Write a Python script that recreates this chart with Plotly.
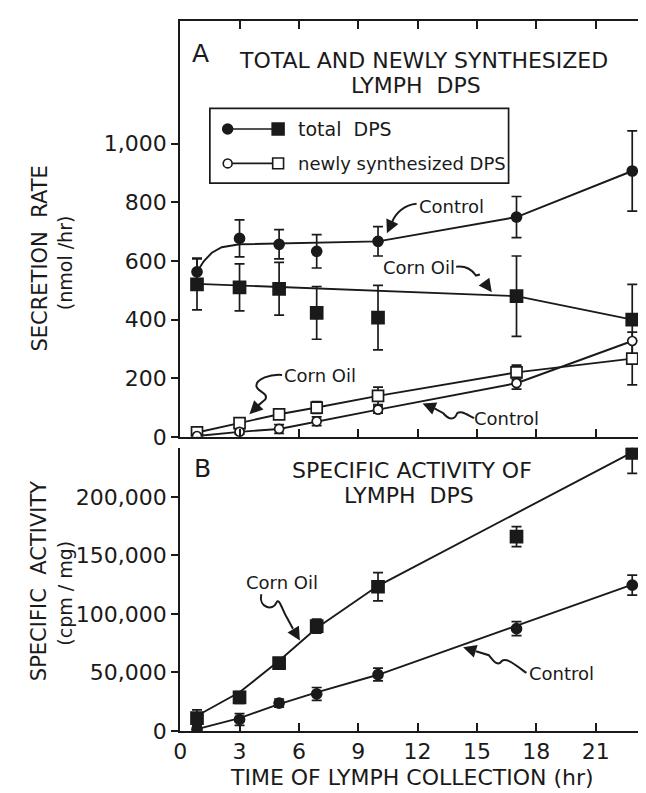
import plotly.graph_objects as go

# ---------------- data ----------------
hours = [0.85, 3, 5, 6.9, 10, 17, 22.85]

# Panel A: secretion rate (nmol/hr)
total_control = [563, 677, 657, 633, 667, 750, 907]
total_control_err = [47, 63, 50, 57, 50, 70, 137]
total_corn = [520, 510, 505, 423, 407, 480, 400]
total_corn_err = [87, 80, 90, 90, 110, 137, 120]
new_corn = [15, 47, 77, 100, 140, 220, 267]
new_corn_err = [10, 12, 15, 20, 30, 25, 90]
new_control = [3, 17, 27, 53, 93, 183, 327]
new_control_err = [5, 8, 15, 15, 12, 20, 0]

# fitted curves drawn through panel A totals
fit_control_t = [0.85, 1.2, 1.6, 2.1, 3.0, 10, 17, 22.85]
fit_control_v = [563, 600, 628, 647, 657, 667, 750, 907]
fit_corn_t = [0.85, 17, 22.85]
fit_corn_v = [522, 480, 400]

# Panel B: specific activity (cpm/mg)
sa_corn = [11000, 28600, 58000, 89600, 123200, 166000, 237500]
sa_corn_err = [7000, 5000, 4500, 6000, 12000, 8500, 17500]
sa_control = [1500, 9800, 23800, 31600, 48200, 87400, 124600]
sa_control_err = [3000, 5000, 3500, 5500, 5500, 6000, 8500]

fit_sa_corn_t = [0.85, 3, 5, 6.9, 10, 22.85]
fit_sa_corn_v = [13000, 33000, 60000, 88000, 124000, 238000]
fit_sa_control_t = [0.85, 3, 5, 6.9, 10, 17, 22.85]
fit_sa_control_v = [1500, 11000, 23000, 33000, 48000, 90000, 125000]

x_ticks = [0, 3, 6, 9, 12, 15, 18, 21]
a_ticks = [0, 200, 400, 600, 800, 1000]
a_ticklabels = ["0", "200", "400", "600", "800", "1,000"]
b_ticks = [0, 50000, 100000, 150000, 200000]
b_ticklabels = ["0", "50,000", "100,000", "150,000", "200,000"]

# ---------------- figure geometry ----------------
W, H = 646, 793
FONT = "DejaVu Sans"
INK = "#1a1a1a"


def px(x):
    return x / W


def py(y):
    return 1 - y / H


fig = go.Figure()


def err(arr):
    return dict(type="data", array=arr, visible=True, color=INK, thickness=1.7, width=5)


def line_trace(x, y, xa, ya):
    fig.add_trace(go.Scatter(x=x, y=y, mode="lines", xaxis=xa, yaxis=ya,
                             line=dict(color=INK, width=1.9), showlegend=False,
                             hoverinfo="skip"))


def marker_trace(x, y, e, symbol, size, xa, ya, filled=True):
    fig.add_trace(go.Scatter(
        x=x, y=y, mode="markers", xaxis=xa, yaxis=ya, error_y=err(e),
        marker=dict(symbol=symbol, size=size,
                    color=INK if filled else "white",
                    line=dict(color=INK, width=1.7)),
        showlegend=False))


# Panel A
line_trace(fit_control_t, fit_control_v, "x", "y")
line_trace(fit_corn_t, fit_corn_v, "x", "y")
line_trace(hours, new_corn, "x", "y")
line_trace(hours, new_control, "x", "y")
marker_trace(hours, total_corn, total_corn_err, "square", 12, "x", "y")
marker_trace(hours, total_control, total_control_err, "circle", 10, "x", "y")
marker_trace(hours, new_corn, new_corn_err, "square", 11, "x", "y", filled=False)
marker_trace(hours, new_control, new_control_err, "circle", 9, "x", "y", filled=False)

# Panel B
line_trace(fit_sa_corn_t, fit_sa_corn_v, "x2", "y2")
line_trace(fit_sa_control_t, fit_sa_control_v, "x2", "y2")
marker_trace(hours, sa_corn, sa_corn_err, "square", 12, "x2", "y2")
marker_trace(hours, sa_control, sa_control_err, "circle", 10, "x2", "y2")

# ---------------- axes ----------------
x_left, x_right = 167, 644
a_top, a_bot = 13, 436
b_top, b_bot = 447, 735
a_scale = (a_bot - 138) / 1000.0        # px per unit
b_scale = (b_bot - 497) / 200000.0
x_scale = (587 - 167) / 21.0
x_range = [0, (x_right - x_left) / x_scale]
a_range = [0, (a_bot - a_top) / a_scale]
b_range = [0, (b_bot - b_top) / b_scale]

xdom = [px(x_left), px(x_right)]
adom = [py(a_bot), py(a_top)]
bdom = [py(b_bot), py(b_top)]

tickfont = dict(family=FONT, size=22, color=INK)
common_x = dict(range=x_range, domain=xdom, tickvals=x_ticks, showgrid=False,
                zeroline=False, showline=True, linecolor=INK, linewidth=1.9,
                ticks="inside", ticklen=8, tickwidth=1.7, tickcolor=INK)
common_y = dict(showgrid=False, zeroline=False, showline=True, linecolor=INK,
                linewidth=1.9, ticklen=7, tickwidth=1.7, tickcolor=INK)

fig.update_layout(
    width=W, height=H, margin=dict(l=0, r=0, t=0, b=0), autosize=False,
    paper_bgcolor="white", plot_bgcolor="white", showlegend=False,
    xaxis=dict(common_x, anchor="y", mirror="ticks", showticklabels=False),
    xaxis2=dict(common_x, anchor="y2", mirror=False, showticklabels=True,
                tickfont=tickfont, ticktext=[str(v) for v in x_ticks]),
    yaxis=dict(common_y, range=a_range, domain=adom, anchor="x", tickvals=a_ticks,
               ticktext=a_ticklabels, tickfont=tickfont, ticks="outside"),
    yaxis3=dict(common_y, range=a_range, domain=adom, anchor="x", overlaying="y",
                side="right", tickvals=a_ticks, showticklabels=False,
                ticks="inside"),
    yaxis2=dict(common_y, range=b_range, domain=bdom, anchor="x2", tickvals=b_ticks,
                ticktext=b_ticklabels, tickfont=tickfont, ticks="outside"),
    yaxis4=dict(common_y, range=b_range, domain=bdom, anchor="x2", overlaying="y2",
                side="right", tickvals=b_ticks, showticklabels=False,
                ticks="inside"),
)

# invisible traces so overlay axes are drawn
fig.add_trace(go.Scatter(x=[None], y=[None], xaxis="x", yaxis="y3", showlegend=False))
fig.add_trace(go.Scatter(x=[None], y=[None], xaxis="x2", yaxis="y4", showlegend=False))


# ---------------- text ----------------
def ptext(text, x, y, size=19, angle=0, xanchor="center"):
    fig.add_annotation(text=text, x=px(x), y=py(y), xref="paper", yref="paper",
                       showarrow=False, xanchor=xanchor, yanchor="middle",
                       textangle=angle, font=dict(family=FONT, size=size, color=INK))


ptext("A", 188, 46, size=25)
ptext("TOTAL AND NEWLY SYNTHESIZED", 413, 53, size=22)
ptext("LYMPH  DPS", 405, 79, size=22)
ptext("B", 190, 468, size=25)
ptext("SPECIFIC ACTIVITY OF", 401, 470, size=22)
ptext("LYMPH  DPS", 398, 496, size=22)

ptext("SECRETION  RATE", 25, 255, size=21, angle=-90)
ptext("(nmol /hr)", 50, 259, size=19, angle=-90)
ptext("SPECIFIC  ACTIVITY", 25, 583, size=21, angle=-90)
ptext("(cpm / mg)", 51, 595, size=19, angle=-90)
ptext("TIME OF LYMPH COLLECTION (hr)", 401, 782, size=22)

# legend box with drawn key symbols
fig.add_shape(type="rect", xref="paper", yref="paper",
              x0=px(197), x1=px(499), y0=py(178), y1=py(102),
              line=dict(color=INK, width=1.7), fillcolor="white", layer="below")


def key_shape(kind, cx, cy, half, filled):
    fig.add_shape(type=kind, xref="paper", yref="paper",
                  x0=px(cx - half), x1=px(cx + half),
                  y0=py(cy + half), y1=py(cy - half),
                  line=dict(color=INK, width=1.6),
                  fillcolor=INK if filled else "white")


for yy, filled in ((123, True), (158, False)):
    fig.add_shape(type="line", xref="paper", yref="paper", x0=px(219), x1=px(260),
                  y0=py(yy), y1=py(yy), line=dict(color=INK, width=1.7))
    key_shape("circle", 215, yy, 5 if filled else 4.5, filled)
    key_shape("rect", 266, yy, 6 if filled else 5.5, filled)

ptext("total  DPS", 284, 123, size=19, xanchor="left")
ptext("newly synthesized DPS", 284, 158, size=18, xanchor="left")


# curved / squiggly arrows with labels (pixel positions of the decorations)
def squiggle(label, lx, ly, path_pts, head, tail):
    ptext(label, lx, ly, size=18)
    d = ""
    for cmd, pts in path_pts:
        d += cmd + " " + " ".join(f"{px(a):.5f},{py(b):.5f}" for a, b in pts) + " "
    fig.add_shape(type="path", path=d.strip(), xref="paper", yref="paper",
                  line=dict(color=INK, width=2.0))
    fig.add_annotation(text="", x=px(head[0]), y=py(head[1]), xref="paper",
                       yref="paper", ax=tail[0] - head[0], ay=tail[1] - head[1],
                       showarrow=True, arrowhead=2, arrowsize=1.2, arrowwidth=2.2,
                       arrowcolor=INK)


# panel A, upper Control
squiggle("Control", 441, 202,
         [("M", [(406, 199)]), ("C", [(394, 200), (385, 208), (381, 218)])],
         (376, 229), (381, 218))
# panel A, upper Corn Oil
squiggle("Corn Oil", 408, 264,
         [("M", [(446, 263)]), ("C", [(455, 262), (462, 266), (466, 272)]),
          ("L", [(470, 271), (474, 278)])],
         (482, 289), (474, 278))
# panel A, lower Corn Oil
squiggle("Corn Oil", 308, 374,
         [("M", [(270, 373)]), ("C", [(258, 372), (244, 377), (244, 384)]),
          ("C", [(244, 390), (257, 391), (253, 398)]), ("L", [(246, 404)])],
         (237, 413), (246, 404))
# panel A, lower Control
squiggle("Control", 497, 417,
         [("M", [(464, 417)]), ("C", [(456, 413), (451, 409), (447, 412)]),
          ("C", [(444, 420), (438, 418), (433, 412)]), ("L", [(424, 407)])],
         (412, 402), (424, 407))
# panel B, Corn Oil
squiggle("Corn Oil", 270, 584,
         [("M", [(249, 596)]), ("C", [(246, 610), (261, 613), (264, 605)]),
          ("C", [(267, 598), (270, 612), (275, 620)]), ("L", [(281, 631)])],
         (288, 643), (281, 631))
# panel B, Control
squiggle("Control", 552, 677,
         [("M", [(517, 676)]), ("C", [(506, 668), (497, 660), (492, 664)]),
          ("C", [(488, 670), (484, 664), (479, 658)]), ("L", [(466, 654)])],
         (453, 650), (466, 654))

fig.write_html("out.html")
